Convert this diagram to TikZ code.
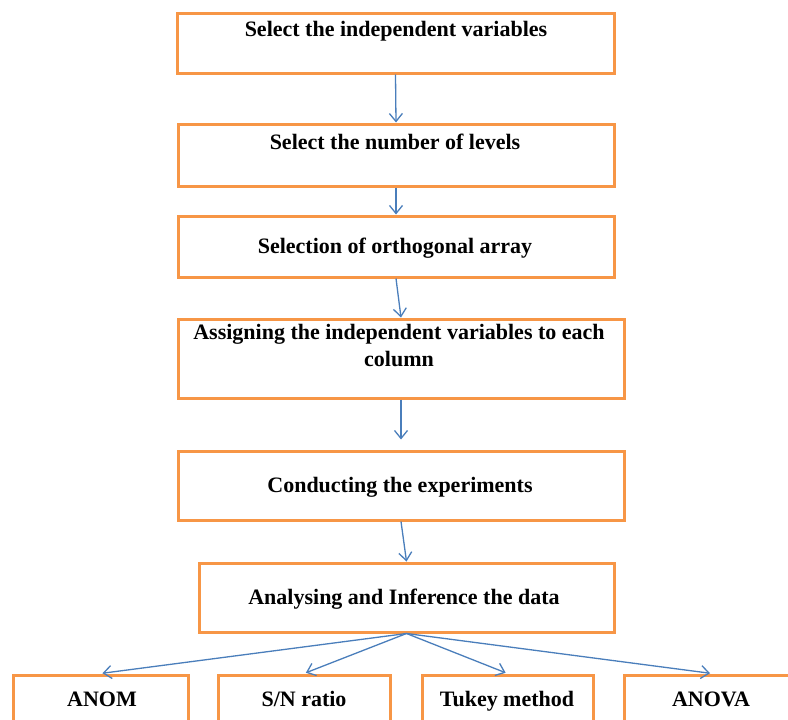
\documentclass[tikz,border=0pt]{standalone}
\usepackage{fontspec}
\setmainfont{Liberation Serif}
\usetikzlibrary{arrows.meta}
\definecolor{boxorange}{HTML}{F79646}
\definecolor{arrowblue}{HTML}{4A7EBB}

\begin{document}
\begin{tikzpicture}[
    x=1pt, y=-1pt,
    box/.style={rectangle, draw=boxorange, line width=3pt, inner sep=0pt},
    txt/.style={font=\fontsize{22}{27}\selectfont\bfseries, inner sep=0pt, align=center, text depth=5pt},
    arrow/.style={-{Straight Barb[length=8pt, width=13pt]}, draw=arrowblue, line width=1.3pt},
]
\useasboundingbox (0,0) rectangle (788,720);
\clip (0,0) rectangle (788,720);

% main chain of steps
\node[box, minimum width=437pt, minimum height=60pt] (sel) at (395.5, 43)    {};
\node[box, minimum width=436pt, minimum height=62pt] (lev) at (396, 155)     {};
\node[box, minimum width=436pt, minimum height=61pt] (oa)  at (396, 246.5)   {};
\node[box, minimum width=446pt, minimum height=79pt] (asg) at (401, 358.5)   {};
\node[box, minimum width=446pt, minimum height=69pt] (exp) at (401, 485.5)   {};
\node[box, minimum width=415pt, minimum height=69pt] (ana) at (406.5, 597.5) {};

% analysis methods (cut by the lower edge)
\node[box, minimum width=175pt, minimum height=70pt] (anom)  at (100.5, 710) {};
\node[box, minimum width=172pt, minimum height=70pt] (sn)    at (304, 710)   {};
\node[box, minimum width=171pt, minimum height=70pt] (tukey) at (507.5, 710) {};
\node[box, minimum width=176pt, minimum height=70pt] (anova) at (712, 710)   {};

% Texts in the boxes
\node[txt] (selT)   at (396, 31.5)  {Select the independent variables};
\node[txt] (levT)   at (395, 144.5) {Select the number of levels};
\node[txt] (oaT)    at (395, 248.5) {Selection of orthogonal array};
\node[txt] (asgT)   at (399, 348)   {Assigning the independent variables to each\\column};
\node[txt] (expT)   at (400, 487.5) {Conducting the experiments};
\node[txt] (anaT)   at (404, 599.5) {Analysing and Inference the data};
\node[txt] (anomT)  at (102, 701.5) {ANOM};
\node[txt] (snT)    at (304, 701.5) {S/N ratio};
\node[txt] (tukeyT) at (507, 701.5) {Tukey method};
\node[txt] (anovaT) at (711, 701.5) {ANOVA};

% Connect the steps
\draw[arrow] (sel.south) -- (lev.north);
\draw[arrow] (lev.south) -- (oa.north);
\draw[arrow] (oa.south)  -- (asg.north);
\draw[arrow, shorten >=10pt] (asg.south) -- (exp.north);
\draw[arrow] (exp.south) -- (ana.north);

% fan out to the methods
\draw[arrow, shorten >=2pt] (ana.south) -- (anom.north);
\draw[arrow, shorten >=2pt] (ana.south) -- (sn.north);
\draw[arrow, shorten >=2pt] (ana.south) -- (tukey.north);
\draw[arrow, shorten >=2pt] (ana.south) -- (anova.north);

\end{tikzpicture}
\end{document}
